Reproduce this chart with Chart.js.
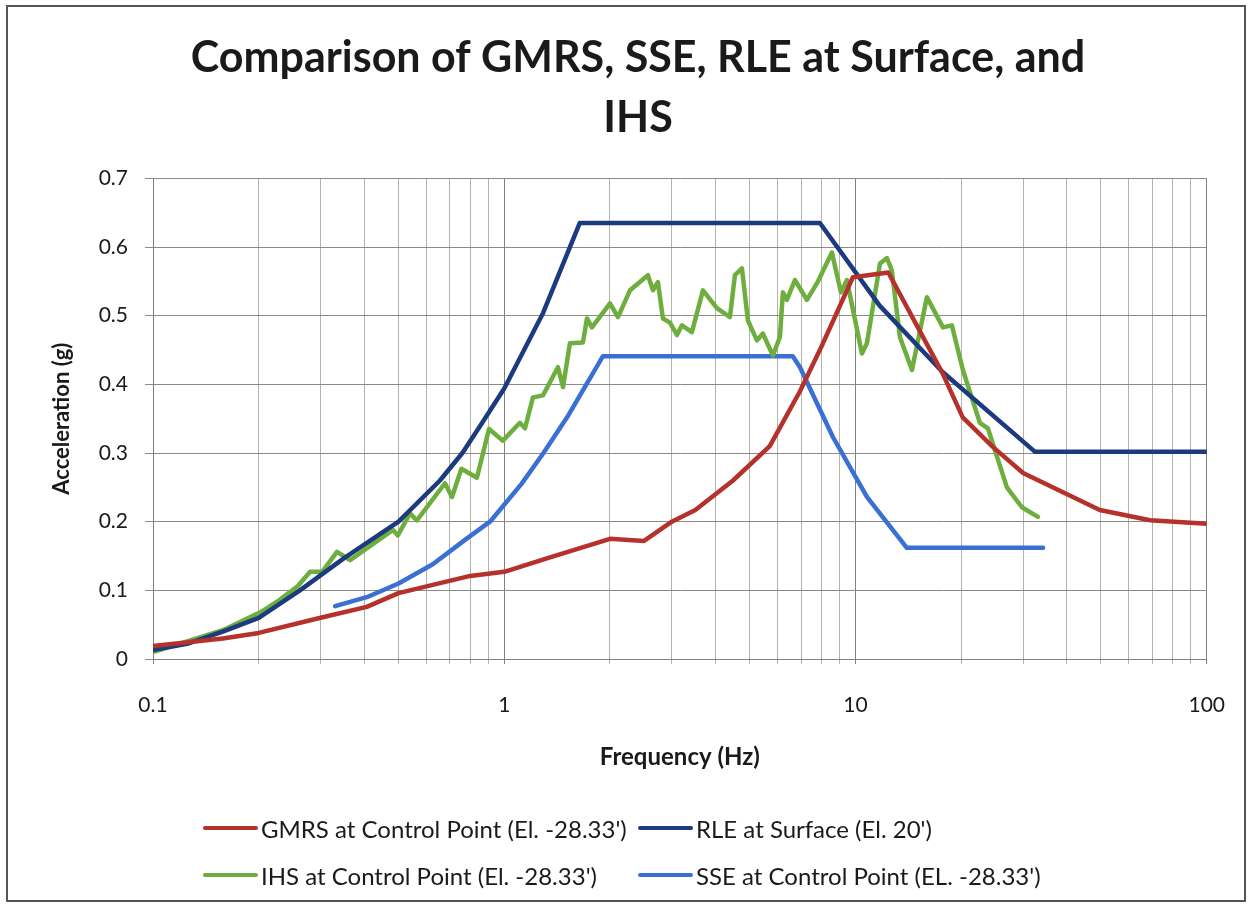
<!DOCTYPE html>
<html>
<head>
<meta charset="utf-8">
<script src="https://cdn.jsdelivr.net/npm/chart.js@4.4.1/dist/chart.umd.min.js"></script>
<style>
  body { margin: 0; background: #fff; overflow: hidden; }
  #wrap { position: relative; width: 1254px; height: 907px; background: #fff; }
  #frame { position: absolute; left: 6px; top: 5px; width: 1240px; height: 897px; border: 2px solid #555; box-sizing: border-box; pointer-events: none; }
  #legend { position: absolute; left: 0; top: 0; width: 1254px; height: 907px; pointer-events: none; font-family: Lato, sans-serif; font-size: 24px; color: #1a1a1a; }
  .item { position: absolute; display: flex; align-items: center; height: 30px; white-space: nowrap; }
  .swatch { width: 55px; height: 4px; margin-right: 3px; border-radius: 2px; }
</style>
</head>
<body>
<div id="wrap">
  <canvas id="chart"></canvas>
  <div id="frame"></div>
  <div id="legend"></div>
</div>
<script>
// frecuencias (Hz) y aceleraciones (g)
const freqGMRS = [0.1, 0.158, 0.2, 0.3, 0.406, 0.5, 0.626, 0.8, 1.0, 1.35, 2.0, 2.5, 3.0, 3.5, 4.48, 5.7, 6.95, 8.0, 9.83, 12.4, 17.7, 20.2, 24.6, 30, 49.6, 69, 100];
const accGMRS = [0.019, 0.03, 0.038, 0.06, 0.076, 0.096, 0.108, 0.121, 0.127, 0.148, 0.175, 0.172, 0.2, 0.217, 0.26, 0.31, 0.39, 0.455, 0.556, 0.563, 0.416, 0.352, 0.309, 0.271, 0.217, 0.202, 0.197];

const freqRLE = [0.1, 0.125, 0.158, 0.2, 0.262, 0.35, 0.5, 0.656, 0.76, 0.87, 1.0, 1.29, 1.64, 7.92, 11.7, 17.7, 32.4, 100];
const accRLE = [0.013, 0.022, 0.04, 0.06, 0.1, 0.147, 0.2, 0.26, 0.3, 0.346, 0.394, 0.504, 0.635, 0.635, 0.515, 0.418, 0.302, 0.302];

const freqIHS = [0.1, 0.158, 0.202, 0.225, 0.257, 0.28, 0.303, 0.334, 0.364, 0.482, 0.498, 0.539, 0.564, 0.678, 0.71, 0.755, 0.836, 0.905, 0.991, 1.108, 1.146, 1.207, 1.289, 1.422, 1.47, 1.538, 1.675, 1.72, 1.777, 2.0, 2.108, 2.28, 2.565, 2.651, 2.738, 2.83, 2.963, 3.102, 3.205, 3.422, 3.679, 4.032, 4.391, 4.537, 4.75, 4.94, 5.24, 5.451, 5.82, 6.093, 6.214, 6.379, 6.723, 7.272, 7.765, 8.568, 9.088, 9.452, 10.43, 10.78, 11.74, 12.29, 12.69, 13.38, 14.48, 15.97, 17.74, 18.81, 20.22, 22.6, 23.82, 26.98, 29.77, 33.06];
const accIHS = [0.01, 0.042, 0.068, 0.083, 0.105, 0.127, 0.127, 0.156, 0.144, 0.188, 0.18, 0.212, 0.202, 0.256, 0.236, 0.277, 0.264, 0.335, 0.318, 0.344, 0.336, 0.381, 0.384, 0.425, 0.396, 0.46, 0.461, 0.496, 0.483, 0.518, 0.498, 0.537, 0.559, 0.537, 0.549, 0.496, 0.49, 0.472, 0.486, 0.476, 0.537, 0.511, 0.498, 0.559, 0.569, 0.493, 0.464, 0.474, 0.442, 0.469, 0.534, 0.523, 0.552, 0.523, 0.547, 0.592, 0.534, 0.552, 0.445, 0.46, 0.576, 0.584, 0.566, 0.469, 0.421, 0.527, 0.483, 0.486, 0.421, 0.344, 0.336, 0.25, 0.221, 0.207];

const freqSSE = [0.33, 0.406, 0.5, 0.626, 0.78, 0.911, 1.12, 1.293, 1.51, 1.91, 6.63, 6.95, 8.63, 10.78, 14.0, 34.2];
const accSSE = [0.077, 0.09, 0.11, 0.138, 0.175, 0.2, 0.255, 0.3, 0.352, 0.441, 0.441, 0.425, 0.323, 0.236, 0.162, 0.162];

// marcas del eje X (log) y etiquetas visibles
const xTicks = [0.1, 0.2, 0.3, 0.4, 0.5, 0.6, 0.7, 0.8, 0.9, 1, 2, 3, 4, 5, 6, 7, 8, 9, 10, 20, 30, 40, 50, 60, 70, 80, 90, 100];
const xLabels = ['0.1', '1', '10', '100'];

const seriesNames = [
  "GMRS at Control Point (El. -28.33')",
  "RLE at Surface (El. 20')",
  "IHS at Control Point (El. -28.33')",
  "SSE at Control Point (EL. -28.33')"
];
const seriesColors = ['#b5312c', '#1c3a7e', '#6eae3f', '#3a6fd4'];

const toPoints = (xs, ys) => xs.map((x, i) => ({ x: x, y: ys[i] }));
const isDecade = v => Math.abs(Math.log10(v) - Math.round(Math.log10(v))) < 1e-6;

const allData = [
  toPoints(freqGMRS, accGMRS),
  toPoints(freqRLE, accRLE),
  toPoints(freqIHS, accIHS),
  toPoints(freqSSE, accSSE)
];

const datasets = allData.map((d, i) => ({
  label: seriesNames[i],
  data: d,
  borderColor: seriesColors[i],
  backgroundColor: seriesColors[i],
  borderWidth: 4.5,
  pointRadius: 0,
  tension: 0,
  borderJoinStyle: 'round',
  borderCapStyle: 'round'
}));

const ctx = document.getElementById('chart').getContext('2d');
new Chart(ctx, {
  type: 'line',
  data: { datasets: datasets },
  options: {
    responsive: true,
    maintainAspectRatio: false,
    animation: false,
    layout: { padding: { left: 69, right: 47, top: 0, bottom: 128 } },
    plugins: {
      legend: { display: false },
      tooltip: { enabled: false },
      title: {
        display: true,
        text: ['Comparison of GMRS, SSE, RLE at Surface, and', 'IHS'],
        color: '#1a1a1a',
        font: { family: 'Lato', size: 43, weight: 'bold', lineHeight: 1.4 },
        padding: { top: 28, bottom: 30 }
      }
    },
    scales: {
      x: {
        type: 'logarithmic',
        min: 0.1,
        max: 100,
        afterBuildTicks: s => { s.ticks = xTicks.map(v => ({ value: v })); },
        afterFit: s => { s.height = 120; },
        ticks: {
          autoSkip: false,
          maxRotation: 0,
          padding: 29,
          color: '#1a1a1a',
          font: { family: 'Lato', size: 21 },
          callback: v => {
            const lab = String(v);
            return isDecade(v) && xLabels.includes(lab) ? lab : '';
          }
        },
        grid: {
          color: c => (c.tick && isDecade(c.tick.value)) ? '#808080' : '#b4b4a8',
          lineWidth: 1,
          tickLength: 5
        },
        border: { color: '#808080', width: 1 },
        title: {
          display: true,
          text: 'Frequency (Hz)',
          color: '#1a1a1a',
          font: { family: 'Lato', size: 24, weight: 'bold' },
          padding: { top: 0, bottom: 7 }
        }
      },
      y: {
        min: 0,
        max: 0.7,
        afterFit: s => { s.width = 84; },
        ticks: {
          stepSize: 0.1,
          padding: 17,
          color: '#1a1a1a',
          font: { family: 'Lato', size: 21 },
          callback: v => Number(v.toFixed(1)).toString()
        },
        grid: { color: '#8a8a8a', lineWidth: 1, tickLength: 8 },
        border: { color: '#808080', width: 1 },
        title: {
          display: true,
          text: 'Acceleration (g)',
          color: '#1a1a1a',
          font: { family: 'Lato', size: 22, weight: 'bold' },
          padding: { top: -20, bottom: 0 }
        }
      }
    }
  }
});

// leyenda en dos columnas como en Excel
const legendPos = [[203, 828], [638, 828], [203, 875], [638, 875]];
const legendBox = document.getElementById('legend');
seriesNames.forEach((name, i) => {
  const item = document.createElement('div');
  item.className = 'item';
  item.style.left = legendPos[i][0] + 'px';
  item.style.top = (legendPos[i][1] - 15) + 'px';
  item.innerHTML = '<span class="swatch" style="background:' + seriesColors[i] + '"></span><span>' + name + '</span>';
  legendBox.appendChild(item);
});
</script>
</body>
</html>
